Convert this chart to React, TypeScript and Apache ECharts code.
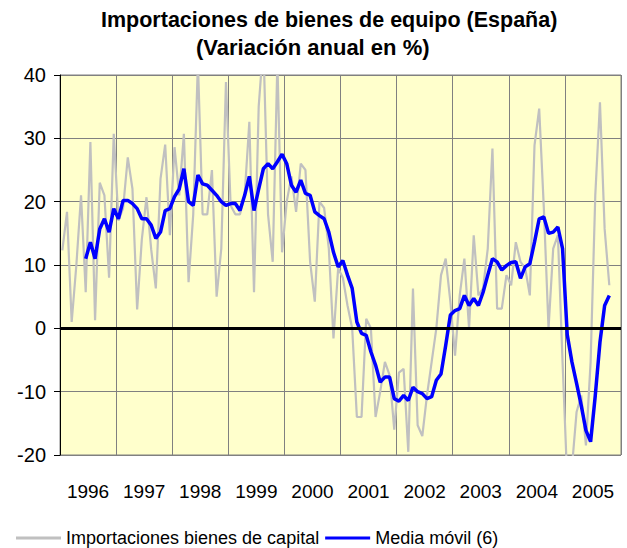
import React, { useEffect, useRef } from "react";
import * as echarts from "echarts";

const years = ["1996", "1997", "1998", "1999", "2000", "2001", "2002", "2003", "2004", "2005"];
const monthNames = ["01", "02", "03", "04", "05", "06", "07", "08", "09", "10", "11", "12"];

// Importaciones bienes de capital (monthly, % yoy), from Jan 1996
const imports = [
  12.3, 18.4, 1, 10, 21, 5.7, 29.4, 1.3, 23, 21, 8, 30.7,
  17, 19, 27, 22, 3, 14, 20.7, 12.5, 6.3, 23.6, 29, 14.7,
  28.6, 21, 30.7, 7.3, 18, 42, 18, 18, 25, 5, 12.6, 38.9,
  19.4, 18, 18, 21, 32.6, 5.7, 35, 45, 18, 10.5, 42, 12,
  20, 24, 18.4, 26, 25, 10.5, 4.2, 20, 19, 12.6, -1.6, 9.5,
  8, 3.6, 0, -14, -14, 1.5, 0, -14, -10, -5.3, -7.4, -16,
  -7, -6.4, -19.5, 6.3, -15.3, -17, -10.6, -5.3, 0, 8.4, 11, 4.2,
  -4.3, 5.2, 11, 0, 14.7, 5.2, 6.3, 12.6, 28.4, 3.1, 3.1, 8.4,
  6.8, 13.6, 10.5, 9.5, 5.2, 28.9, 34.7, 18.9, 0, 12.6, 14.7, -5.3,
  -24, -22, -13.2, -10.6, -18.5, -5.3, 21, 35.7, 15.7, 6.8,
];

// Media móvil (6)
const movingAvg = [
  null, null, null, null, null, 11, 13.6, 11, 15.7, 17.3, 15.2, 18.9,
  17.3, 20.2, 20.2, 19.7, 18.9, 17.3, 17.3, 16.3, 14.2, 15.2, 18.6, 18.9,
  20.8, 22, 25.2, 20, 19.4, 24.2, 22.8, 22.6, 21.8, 21, 20, 19.4,
  19.7, 19.7, 18.6, 21, 24, 18.6, 22, 25.2, 26, 25.2, 26.3, 27.5,
  26, 22.6, 21.5, 23.4, 21.3, 21, 18.4, 17.8, 17.3, 15.2, 12, 9.7,
  10.7, 8.4, 6.3, 1, -0.8, -1.1, -3.7, -5.8, -8.5, -7.7, -7.7, -11.1,
  -11.5, -10.6, -11.4, -9.3, -10, -10.3, -11.1, -10.8, -8.2, -7.2, -2.7, 2.1,
  2.8, 3.1, 5.2, 3.6, 4.7, 3.6, 5.7, 8.4, 11, 10.5, 9.2, 9.9,
  10.4, 10.5, 7.9, 9.7, 10.2, 13.6, 17.3, 17.6, 15, 15.2, 16, 12.6,
  -1, -5.3, -8.7, -12.2, -16.1, -17.9, -10.6, -2.2, 3.6, 5.2,
];

const yTicks = { min: -20, max: 40, interval: 10 };

const months: string[] = [];
years.forEach((y) => monthNames.forEach((m) => months.push(`${y}-${m}`)));

const FONT = "Arial, 'Liberation Sans', sans-serif";

export default function App() {
  const ref = useRef<HTMLDivElement>(null);
  useEffect(() => {
    if (!ref.current) return;
    const chart = echarts.init(ref.current, null, { renderer: "svg" });
    chart.setOption({
      animation: false,
      backgroundColor: "#ffffff",
      title: [
        {
          text: "Importaciones de bienes de equipo (España)",
          left: 96,
          top: 3,
          textStyle: {
            fontFamily: FONT,
            fontSize: 21.5,
            fontWeight: "bold",
            color: "#000",
            lineHeight: 24,
          },
        },
        {
          text: "(Variación anual en %)",
          left: 191,
          top: 30,
          textStyle: {
            fontFamily: FONT,
            fontSize: 22,
            fontWeight: "bold",
            color: "#000",
            lineHeight: 24,
          },
        },
      ],
      legend: {
        left: 11,
        top: 524,
        icon: "rect",
        itemWidth: 45,
        itemHeight: 3,
        itemGap: 6,
        textStyle: { fontFamily: FONT, fontSize: 18, color: "#000" },
        data: ["Importaciones bienes de capital", "Media móvil (6)"],
      },
      grid: {
        left: 60,
        right: 6,
        top: 75,
        bottom: 93,
        show: true,
        backgroundColor: "#FFFFCC",
        borderColor: "#808080",
        borderWidth: 1,
      },
      xAxis: [
        {
          type: "category",
          data: months,
          boundaryGap: true,
          axisLine: { show: false },
          axisTick: { show: false, interval: 11 },
          axisLabel: { show: false, interval: 11 },
          splitLine: { show: true, interval: 11, lineStyle: { color: "#808080", width: 1 } },
        },
        {
          type: "category",
          data: years,
          position: "bottom",
          boundaryGap: true,
          axisLine: { show: false },
          axisTick: { show: false },
          splitLine: { show: false },
          axisLabel: { interval: 0, hideOverlap: false, fontFamily: FONT, fontSize: 19, color: "#000", margin: 27 },
        },
      ],
      yAxis: {
        type: "value",
        min: yTicks.min,
        max: yTicks.max,
        interval: yTicks.interval,
        axisLine: { show: true, lineStyle: { color: "#000", width: 1 } },
        axisTick: { show: true, inside: false, length: 6, lineStyle: { color: "#000" } },
        axisLabel: { fontFamily: FONT, fontSize: 20, color: "#000", margin: 14 },
        splitLine: { show: true, lineStyle: { color: "#808080", width: 1 } },
      },
      series: [
        {
          name: "Importaciones bienes de capital",
          type: "line",
          xAxisIndex: 0,
          data: imports,
          symbol: "none",
          clip: true,
          lineStyle: { color: "#C0C0C0", width: 2.2 },
          itemStyle: { color: "#C0C0C0" },
          z: 2,
          markLine: {
            silent: true,
            symbol: "none",
            label: { show: false },
            lineStyle: { color: "#000", width: 3, type: "solid" },
            data: [{ yAxis: 0 }],
          },
        },
        {
          name: "Media móvil (6)",
          type: "line",
          xAxisIndex: 0,
          data: movingAvg,
          symbol: "none",
          clip: true,
          connectNulls: false,
          lineStyle: { color: "#0000FF", width: 3.5 },
          itemStyle: { color: "#0000FF" },
          z: 4,
        },
      ],
    });
    return () => chart.dispose();
  }, []);
  return (
    <div
      ref={ref}
      style={{ position: "absolute", left: 0, top: 0, width: 627, height: 548 }}
    />
  );
}
